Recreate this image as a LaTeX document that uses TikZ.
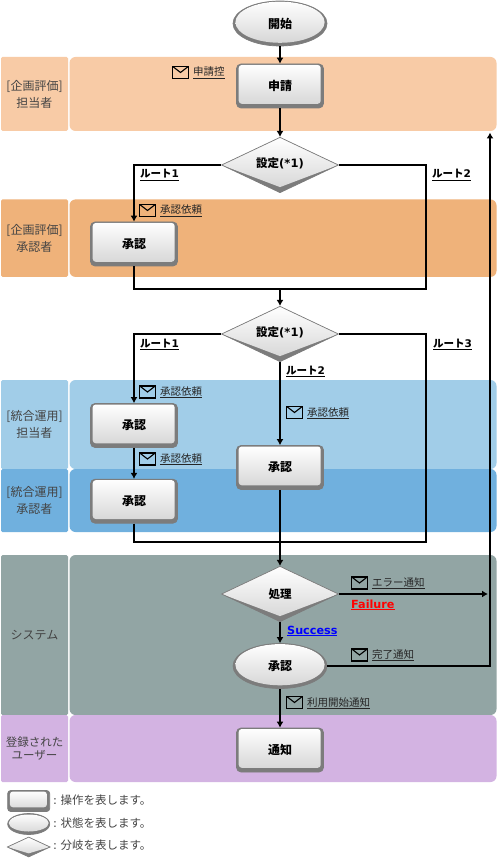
\documentclass[tikz,border=0pt]{standalone}
\usepackage{fontspec}
\setmainfont{Noto Sans CJK JP}
\newfontfamily\latinf{DejaVu Sans}
\usetikzlibrary{arrows.meta,shapes.geometric,positioning,calc}
\definecolor{laneA}{HTML}{F8CBA6}
\definecolor{laneB}{HTML}{EFB27A}
\definecolor{laneC}{HTML}{A1CDE8}
\definecolor{laneD}{HTML}{70B0DE}
\definecolor{laneE}{HTML}{92A5A4}
\definecolor{laneF}{HTML}{D3B3E2}
\definecolor{edgegray}{HTML}{7C7C7C}
\definecolor{lanetext}{HTML}{444444}
\newcommand{\ltn}[1]{{\latinf #1}}
\tikzset{
  x=1pt,y=-1pt,
  lanehead/.style={rectangle,rounded corners=1.5pt,inner sep=0pt,minimum width=67pt,align=center,text=lanetext,
    font=\fontsize{12}{17}\selectfont},
  laneband/.style={rectangle,rounded corners=6pt,inner sep=0pt,minimum width=427pt},
  opbox/.style={rectangle,rounded corners=4.5pt,draw=edgegray,line width=.7pt,fill=edgegray,
    minimum width=87pt,minimum height=44pt,inner sep=0pt,font=\fontsize{12}{14}\selectfont\bfseries,
    path picture={
      \shade[top color=white,bottom color=black!17,rounded corners=3pt]
        ($(path picture bounding box.south west)+(2.2pt,4.2pt)$) rectangle
        ($(path picture bounding box.north east)+(-2.8pt,-1pt)$);
    }},
  stateell/.style={ellipse,draw=edgegray,line width=.7pt,fill=edgegray,
    minimum width=94pt,minimum height=45pt,inner sep=0pt,font=\fontsize{12}{14}\selectfont\bfseries,
    path picture={
      \shade[top color=white,bottom color=black!17]
        ($(path picture bounding box.center)+(0,1.3pt)$) ellipse [x radius=44.6pt,y radius=20.6pt];
    }},
  branch/.style={diamond,draw=edgegray,line width=.7pt,fill=edgegray,aspect=2.1,
    minimum width=117pt,minimum height=55.5pt,inner sep=0pt,font=\fontsize{11.5}{14}\selectfont\bfseries,
    path picture={
      \shade[top color=white,bottom color=black!17]
        (path picture bounding box.north) -- (path picture bounding box.east) --
        ($(path picture bounding box.south)+(0,5.5pt)$) -- (path picture bounding box.west) -- cycle;
    }},
  mailicon/.style={rectangle,draw=black,line width=1.4pt,
    minimum width=15.5pt,minimum height=12pt,inner sep=0pt,
    path picture={
      \draw[black,line width=1.1pt]
        (path picture bounding box.north west) -- (path picture bounding box.center) --
        (path picture bounding box.north east);
    }},
  maillabel/.style={inner sep=0pt,anchor=base west,text=black!85,font=\fontsize{10.5}{12}\selectfont},
  routelabel/.style={inner sep=0pt,anchor=base west,text=black,font=\fontsize{10.5}{12}\selectfont\bfseries},
  flow/.style={line width=2pt,draw=black,line join=miter},
  flowtip/.style={flow,-{Latex[length=6pt,width=7pt]}},
  legendtext/.style={inner sep=0pt,anchor=base west,text=lanetext,font=\fontsize{11.5}{14}\selectfont},
}
\begin{document}
\begin{tikzpicture}
\useasboundingbox (0,0) rectangle (497,858);
\fill[white] (0,0) rectangle (497,858);
% lanes
\node[lanehead,fill=laneA,minimum height=74pt] (hA) at (34.5,94) {[企画評価]\\担当者};
\node[laneband,fill=laneA,minimum height=74pt] (lA) at (283,94) {};
\node[lanehead,fill=laneB,minimum height=77.5pt] (hB) at (34.5,238.2) {[企画評価]\\承認者};
\node[laneband,fill=laneB,minimum height=77.5pt] (lB) at (283,238.2) {};
\node[lanehead,fill=laneC,minimum height=89pt] (hC) at (34.5,424.5) {[統合運用]\\担当者};
\node[laneband,fill=laneC,minimum height=89pt] (lC) at (283,424.5) {};
\node[lanehead,fill=laneD,minimum height=63pt] (hD) at (34.5,500.5) {[統合運用]\\承認者};
\node[laneband,fill=laneD,minimum height=63pt] (lD) at (283,500.5) {};
\node[lanehead,fill=laneE,minimum height=160pt] (hE) at (34.5,635) {システム};
\node[laneband,fill=laneE,minimum height=160pt] (lE) at (283,635) {};
\node[lanehead,fill=laneF,minimum height=67pt,font=\fontsize{11.5}{13}\selectfont] (hF) at (34.5,748.5) {登録された\\ユーザー};
\node[laneband,fill=laneF,minimum height=67pt] (lF) at (283,748.5) {};
% shapes
\node[stateell] (start) at (280,23.5) {開始};
\node[opbox] (apply) at (280,86) {申請};
\node[branch] (d1) at (280,165) {\raisebox{4.5pt}{設定\ltn{(*1)}}};
\node[opbox] (a1) at (134,244) {承認};
\node[branch] (d2) at (280,334) {\raisebox{4.5pt}{設定\ltn{(*1)}}};
\node[opbox] (a2) at (134,425.5) {承認};
\node[opbox] (a3) at (134,501.2) {承認};
\node[opbox] (a4) at (280,467.5) {承認};
\node[branch] (proc) at (280,594) {処理};
\node[stateell] (appr) at (280,666) {承認};
\node[opbox] (notify) at (280,750) {通知};
% junctions
\coordinate (j1) at (426,289);
\coordinate (j1m) at (280,289);
\coordinate (j2) at (426,542);
\coordinate (j2m) at (280,542);
\coordinate (retB) at (490,132.5);
\coordinate (failEnd) at (488,594);
% connectors
\draw[flowtip] (start.south) -- (apply.north);
\draw[flowtip] (apply.south) -- (d1.north);
\draw[flowtip] (d1.west) -| (a1.north);
\draw[flow] (a1.south) |- (j1) |- (d1.east);
\draw[flowtip] (j1m) -- (d2.north);
\draw[flowtip] (d2.west) -| (a2.north);
\draw[flowtip] (a2.south) -- (a3.north);
\draw[flowtip] (d2.south) -- (a4.north);
\draw[flow] (a3.south) |- (j2) |- (d2.east);
\draw[flowtip] (a4.south) -- (proc.north);
\draw[flowtip] (proc.east) -- (failEnd);
\draw[flowtip] (proc.south) -- (appr.north);
\draw[flowtip] (appr.east) -| (retB);
\draw[flowtip] (appr.south) -- (notify.north);
% mail icons and labels
\node[mailicon] (m1) at (180.5,72.5) {};
\node[maillabel] (t1) at (193,76) {\underline{申請控}};
\node[mailicon] (m2) at (147.5,210.5) {};
\node[maillabel] (t2) at (160,214) {\underline{承認依頼}};
\node[mailicon] (m3) at (147.5,392) {};
\node[maillabel] (t3) at (160,395) {\underline{承認依頼}};
\node[mailicon] (m4) at (294.5,412.5) {};
\node[maillabel] (t4) at (307,416) {\underline{承認依頼}};
\node[mailicon] (m5) at (147.5,459) {};
\node[maillabel] (t5) at (160,462) {\underline{承認依頼}};
\node[mailicon] (m6) at (359.5,583) {};
\node[maillabel] (t6) at (372,586) {\underline{エラー通知}};
\node[mailicon] (m7) at (359.5,655) {};
\node[maillabel] (t7) at (372,658) {\underline{完了通知}};
\node[mailicon] (m8) at (294.5,702.5) {};
\node[maillabel] (t8) at (307,706) {\underline{利用開始通知}};
% route labels
\node[routelabel] (r1) at (140,178) {\underline{ルート\ltn{1}}};
\node[routelabel] (r2) at (432,178) {\underline{ルート\ltn{2}}};
\node[routelabel] (r3) at (140,347) {\underline{ルート\ltn{1}}};
\node[routelabel] (r4) at (433,347) {\underline{ルート\ltn{3}}};
\node[routelabel] (r5) at (286,374) {\underline{ルート\ltn{2}}};
\node[routelabel,text={rgb,255:red,255;green,0;blue,0},font=\fontsize{11.2}{13}\selectfont\latinf\bfseries] (fail) at (351,608) {\underline{Failure}};
\node[routelabel,text={rgb,255:red,0;green,0;blue,255},font=\fontsize{11.2}{13}\selectfont\latinf\bfseries] (succ) at (287,634) {\underline{Success}};
% legend
\node[opbox,minimum width=42pt,minimum height=21pt,rounded corners=3pt] (k1) at (28.7,801) {};
\node[stateell,minimum width=42pt,minimum height=21pt,path picture={
  \shade[top color=white,bottom color=black!17]
    ($(path picture bounding box.center)+(0,1pt)$) ellipse [x radius=20pt,y radius=8.5pt];}] (k2) at (28.7,824) {};
\node[branch,minimum width=43pt,minimum height=20pt,path picture={
  \shade[top color=white,bottom color=black!17]
    (path picture bounding box.north) -- (path picture bounding box.east) --
    ($(path picture bounding box.south)+(0,3.5pt)$) -- (path picture bounding box.west) -- cycle;}] (k3) at (28.7,847) {};
\node[legendtext] (l1) at (53,804.5) {\ltn{:} 操作を表します。};
\node[legendtext] (l2) at (53,827) {\ltn{:} 状態を表します。};
\node[legendtext] (l3) at (53,849.5) {\ltn{:} 分岐を表します。};
\end{tikzpicture}
\end{document}
